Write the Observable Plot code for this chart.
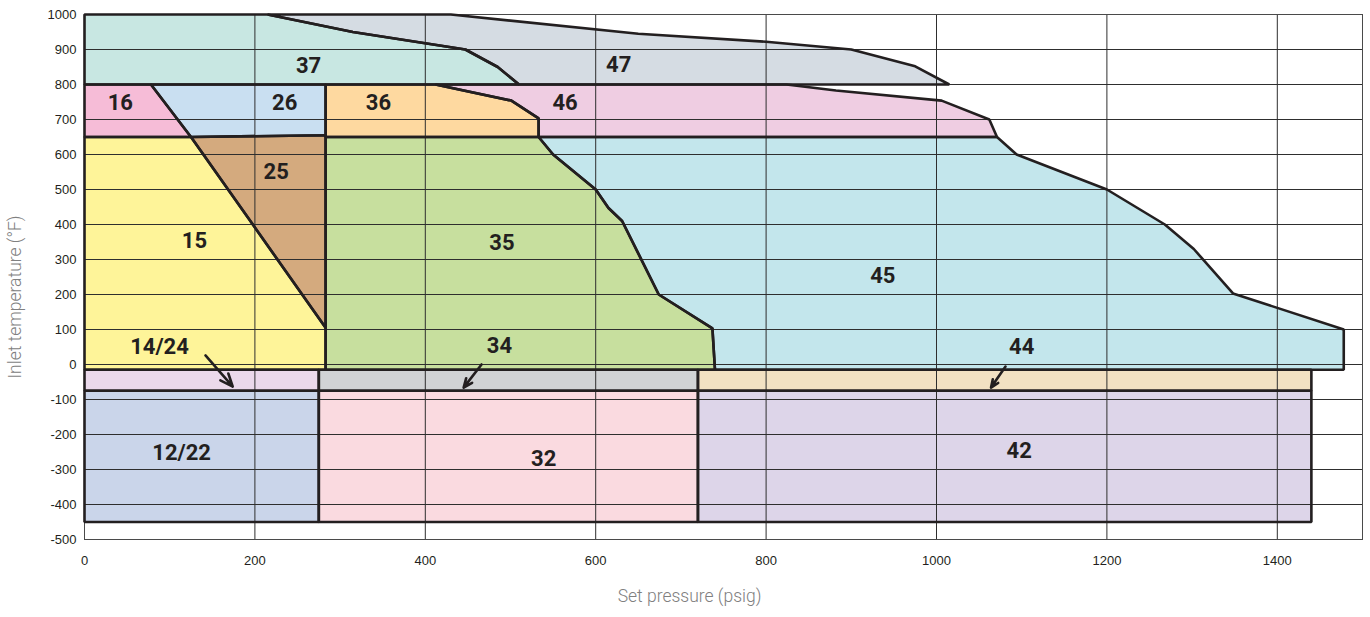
<!DOCTYPE html>
<html>
<head>
<meta charset="utf-8">
<script src="https://cdn.jsdelivr.net/npm/d3@7"></script>
<script src="https://cdn.jsdelivr.net/npm/@observablehq/plot@0.6"></script>
<style>
  html, body { margin: 0; padding: 0; background: #fff; }
  #chart { width: 1370px; height: 617px; }
</style>
</head>
<body>
<div id="chart"></div>
<script>
// ---- data (set pressure psig, inlet temperature °F) ----
const xTicks = [0, 200, 400, 600, 800, 1000, 1200, 1400];
const yTicks = [-500, -400, -300, -200, -100, 0, 100, 200, 300, 400, 500, 600, 700, 800, 900, 1000];

const zoneNames  = ["37", "47", "16", "26", "36", "46", "15", "25", "35", "45", "14/24", "34", "44", "12/22", "32", "42"];
const zoneColors = ["#c8e7e2", "#d5dce3", "#f6bcd7", "#c9dff1", "#fed9a0", "#efcde2", "#fef499", "#d4aa7e", "#c7df9e", "#c3e6ec", "#ebd9eb", "#d1d3d5", "#f2e1c3", "#cad5ea", "#fadae0", "#ddd5e9"];

const zone37 = [[0,800],[0,1000],[215,1000],[315,950],[447,900],[485,850],[510,800]];
const zone47 = [[215,1000],[430,1000],[650,945],[800,922],[900,900],[975,852],[1015,800],[510,800],[485,850],[447,900],[315,950]];
const zone16 = [[0,650],[0,800],[78,800],[125,650]];
const zone26 = [[78,800],[283,800],[283,655],[125,650]];
const zone36 = [[283,650],[283,800],[412,800],[501,754],[533,703],[533,650]];
const zone46 = [[412,800],[824,800],[882,783],[1006,754],[1062,700],[1071,650],[533,650],[533,703],[501,754]];
const zone15 = [[0,650],[125,650],[283,105],[283,-15],[0,-15]];
const zone25 = [[125,650],[283,655],[283,105]];
const zone35 = [[283,650],[533,650],[550,600],[600,500],[615,447],[631,410],[674,200],[737,103],[740,-15],[283,-15]];
const zone45 = [[533,650],[1071,650],[1094,600],[1200,500],[1268,400],[1302,330],[1348,203],[1478,100],[1478,-15],[740,-15],[737,103],[674,200],[631,410],[615,447],[600,500],[550,600]];
const zone14_24 = [[0,-15],[275,-15],[275,-75],[0,-75]];
const zone34 = [[275,-15],[720,-15],[720,-75],[275,-75]];
const zone44 = [[720,-15],[1440,-15],[1440,-75],[720,-75]];
const zone12_22 = [[0,-75],[275,-75],[275,-450],[0,-450]];
const zone32 = [[275,-75],[720,-75],[720,-450],[275,-450]];
const zone42 = [[720,-75],[1440,-75],[1440,-450],[720,-450]];

const labelText = ["37", "47", "16", "26", "36", "46", "25", "15", "35", "45", "14/24", "34", "44", "12/22", "32", "42"];
const labelX    = [263, 627, 42, 235, 345, 564, 225, 129, 490, 937, 88, 487, 1100, 114, 539, 1097];
const labelY    = [854, 857, 746, 746, 746, 746, 549, 354, 346, 254, 49, 54, 51, -254, -269, -246];

const arrowX1 = [142, 466, 1081];
const arrowY1 = [26, 0, -6];
const arrowX2 = [174, 445, 1064];
const arrowY2 = [-63, -66, -66];

// ---- build tables ----
const zoneVerts = [zone37, zone47, zone16, zone26, zone36, zone46, zone15, zone25, zone35, zone45, zone14_24, zone34, zone44, zone12_22, zone32, zone42];
const polyPoints = zoneVerts.flatMap((v, i) => v.map(([x, y]) => ({zone: zoneNames[i], x, y})));
const labels = labelText.map((t, i) => ({text: t, x: labelX[i], y: labelY[i]}));
const arrows = arrowX1.map((_, i) => ({x1: arrowX1[i], y1: arrowY1[i], x2: arrowX2[i], y2: arrowY2[i]}));

const ink = "#231f20";

const chart = Plot.plot({
  width: 1370,
  height: 617,
  marginLeft: 84,
  marginRight: 8,
  marginTop: 14,
  marginBottom: 78,
  x: {domain: [0, 1500]},
  y: {domain: [-500, 1000]},
  color: {domain: zoneNames, range: zoneColors},
  style: {fontFamily: "'Liberation Sans', Arial, sans-serif", fontSize: "13px", color: ink, background: "#fff"},
  marks: [
    Plot.line(polyPoints, {x: "x", y: "y", z: "zone", fill: "zone", stroke: "none", curve: "linear-closed"}),
    Plot.gridX(xTicks, {stroke: "#2e2e2e", strokeOpacity: 1, strokeWidth: 1}),
    Plot.gridY(yTicks, {stroke: "#2e2e2e", strokeOpacity: 1, strokeWidth: 1}),
    Plot.frame({stroke: "#4a4a4a", strokeWidth: 1}),
    Plot.line(polyPoints, {x: "x", y: "y", z: "zone", fill: "none", stroke: ink, strokeWidth: 2.6, strokeLinejoin: "miter", curve: "linear-closed"}),
    Plot.arrow(arrows, {x1: "x1", y1: "y1", x2: "x2", y2: "y2", stroke: ink, strokeWidth: 2.6, headLength: 13, headAngle: 45}),
    Plot.text(labels, {x: "x", y: "y", text: "text", fill: ink, fontSize: 22, fontWeight: 700, fontFamily: "Roboto, 'DejaVu Sans Condensed', sans-serif"}),
    Plot.axisX(xTicks, {tickSize: 0, tickPadding: 16, label: null, fontSize: 13, tickFormat: d => String(d)}),
    Plot.axisY(yTicks, {tickSize: 0, tickPadding: 8, label: null, fontSize: 13, tickFormat: d => String(d)}),
    Plot.text(["Set pressure (psig)"], {frameAnchor: "bottom", textAnchor: "middle", dx: -34, dy: 62, fill: "#808080", fontSize: 17.5, fontWeight: 300, fontFamily: "Roboto, sans-serif"}),
    Plot.text(["Inlet temperature (°F)"], {frameAnchor: "left", textAnchor: "middle", rotate: -90, dx: -69, dy: 20, fill: "#808080", fontSize: 17.5, fontWeight: 300, fontFamily: "Roboto, sans-serif"})
  ]
});
document.getElementById("chart").appendChild(chart);
</script>
</body>
</html>
